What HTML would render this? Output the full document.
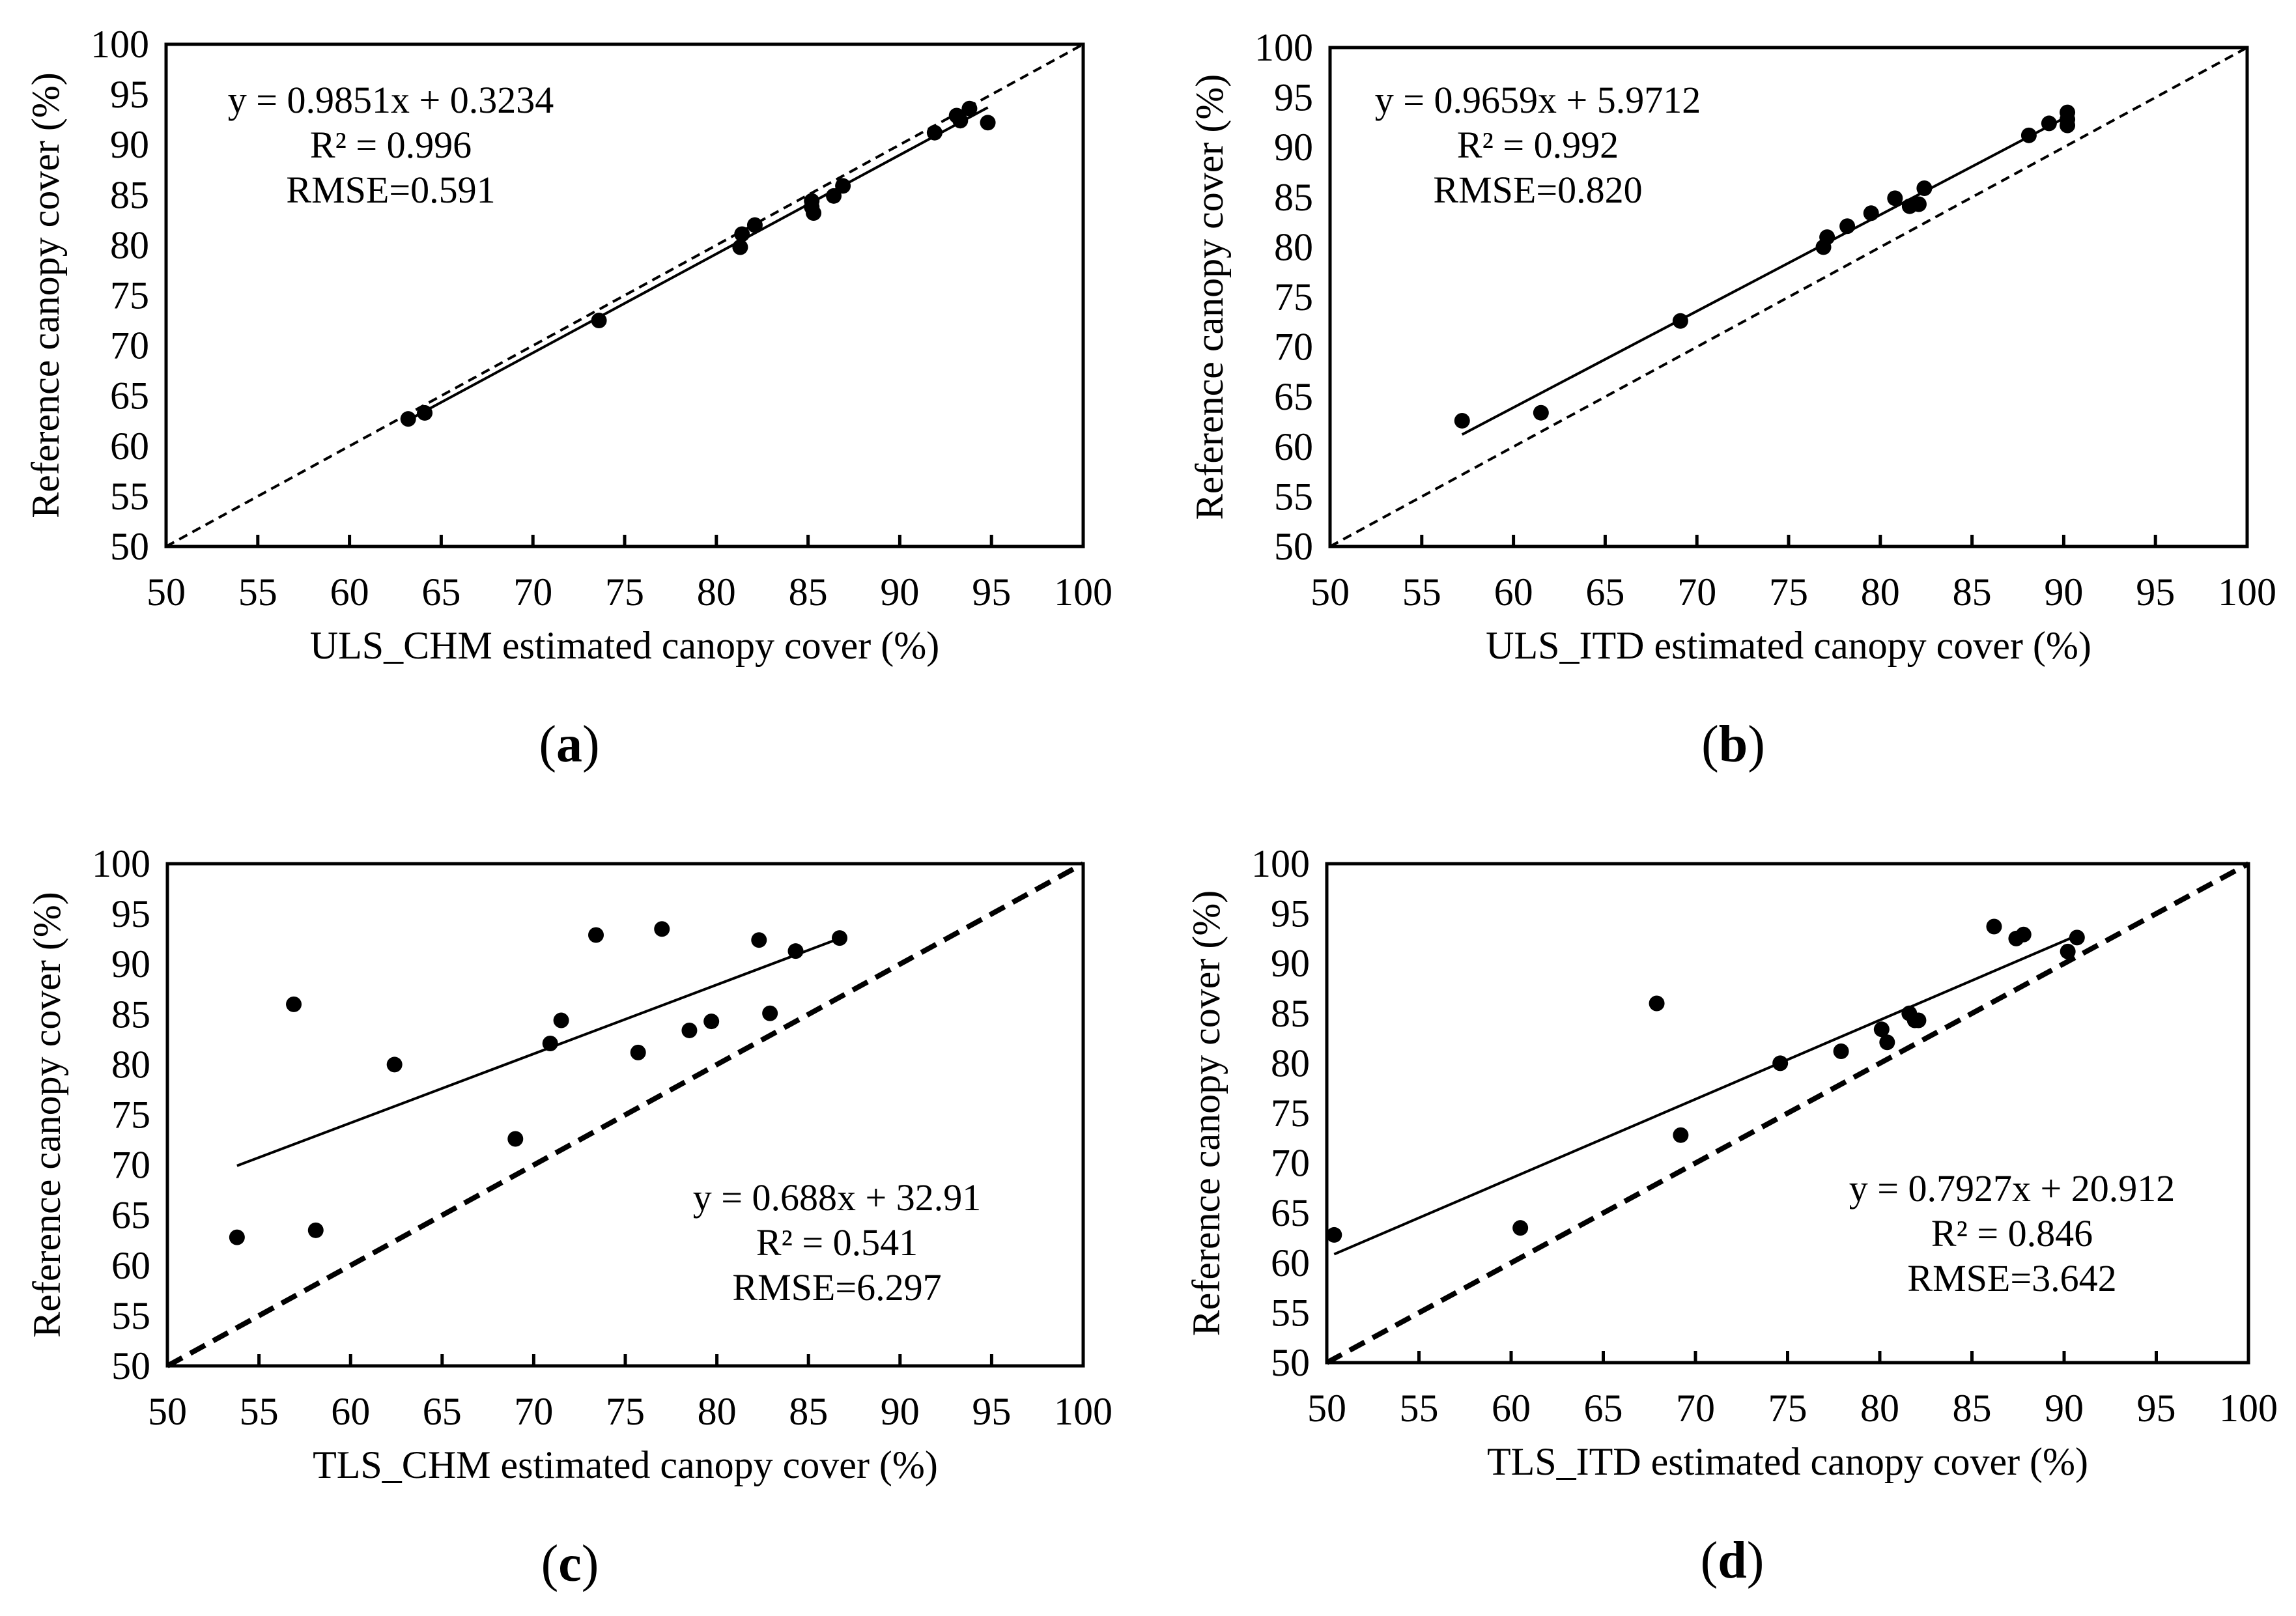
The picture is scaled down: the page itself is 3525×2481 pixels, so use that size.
<!DOCTYPE html>
<html><head><meta charset="utf-8"><style>
html,body{margin:0;padding:0;background:#fff;}
svg{display:block;}
text{font-family:"Liberation Serif","DejaVu Serif",serif;}
</style></head><body>
<svg id="fig" width="3525" height="2481" viewBox="0 0 3525 2481" xmlns="http://www.w3.org/2000/svg"></svg>
<script>
const ticks = [50,55,60,65,70,75,80,85,90,95,100];
const aX = [63.2,64.1,73.6,81.3,81.4,82.1,85.2,85.3,85.2,86.4,86.9,91.9,93.1,93.3,93.8,94.8];
const aY = [62.7,63.3,72.5,79.8,81.1,82.0,84.4,83.2,83.8,84.9,85.9,91.2,92.9,92.4,93.6,92.2];
const bX = [57.2,61.5,69.1,76.9,77.1,78.2,79.5,80.8,81.6,82.1,82.4,88.1,89.2,90.2,90.2,90.2];
const bY = [62.6,63.4,72.6,80.0,81.0,82.1,83.4,84.9,84.1,84.3,85.9,91.2,92.4,93.5,92.8,92.2];
const cX = [53.8,56.9,58.1,62.4,69.0,70.9,71.5,73.4,75.7,77.0,78.5,79.7,82.3,82.9,84.3,86.7];
const cY = [62.8,86.0,63.5,80.0,72.6,82.1,84.4,92.9,81.2,93.5,83.4,84.3,92.4,85.1,91.3,92.6];
const dX = [50.4,60.5,67.9,69.2,74.6,77.9,80.1,80.4,81.6,81.9,82.1,86.2,87.4,87.8,90.2,90.7];
const dY = [62.8,63.5,86.0,72.8,80.0,81.2,83.4,82.1,85.0,84.3,84.3,93.7,92.5,92.9,91.2,92.6];
const slopes = [0.9851,0.9659,0.688,0.7927];
const intercepts = [0.3234,5.9712,32.91,20.912];
const eqLabels = ["y = 0.9851x + 0.3234","y = 0.9659x + 5.9712","y = 0.688x + 32.91","y = 0.7927x + 20.912"];
const r2Labels = ["R² = 0.996","R² = 0.992","R² = 0.541","R² = 0.846"];
const rmseLabels = ["RMSE=0.591","RMSE=0.820","RMSE=6.297","RMSE=3.642"];
const xTitles = ["ULS_CHM estimated canopy cover (%)","ULS_ITD estimated canopy cover (%)","TLS_CHM estimated canopy cover (%)","TLS_ITD estimated canopy cover (%)"];
const panelLetters = ["a","b","c","d"];

const NS="http://www.w3.org/2000/svg";
const svg=document.getElementById('fig');
const FF='Liberation Serif, DejaVu Serif, serif';
function mk(tag,attrs,parent){const e=document.createElementNS(NS,tag);for(const k in attrs)e.setAttribute(k,attrs[k]);if(tag==='text')e.setAttribute('font-family',FF);(parent||svg).appendChild(e);return e;}

const panels=[
 {x0:255,x1:1663,y0:68,y1:839,xs:aX,ys:aY,dashW:4,dash:"14,9",eq:[600,153]},
 {x0:2042,x1:3450,y0:73,y1:839,xs:bX,ys:bY,dashW:4,dash:"14,9",eq:[2361,153]},
 {x0:257,x1:1663,y0:1326,y1:2097,xs:cX,ys:cY,dashW:8,dash:"26,14",eq:[1285,1838]},
 {x0:2037,x1:3452,y0:1326,y1:2092,xs:dX,ys:dY,dashW:8,dash:"26,14",eq:[3089,1824]}
];

panels.forEach((p,i)=>{
 const g=mk('g',{});
 
 
 const sx=v=>p.x0+(v-50)/50*(p.x1-p.x0);
 const sy=v=>p.y1-(v-50)/50*(p.y1-p.y0);
 const one=mk('line',{x1:sx(50),y1:sy(50),x2:sx(100),y2:sy(100),stroke:'#000','stroke-width':p.dashW,'stroke-dasharray':p.dash},g);
 
 
 const mn=Math.min(...p.xs),mx=Math.max(...p.xs);
 const rl=mk('line',{x1:sx(mn),y1:sy(slopes[i]*mn+intercepts[i]),x2:sx(mx),y2:sy(slopes[i]*mx+intercepts[i]),stroke:'#000','stroke-width':4},g);
 
 
 p.xs.forEach((v,j)=>{
  const c=mk('circle',{cx:sx(v),cy:sy(p.ys[j]),r:12,fill:'#000'},g);
  
  
 });
 const fr=mk('rect',{x:p.x0,y:p.y0,width:p.x1-p.x0,height:p.y1-p.y0,fill:'none',stroke:'#000','stroke-width':5},g);
 
 
 ticks.forEach(t=>{
  const tk=mk('line',{x1:sx(t),y1:p.y1,x2:sx(t),y2:p.y1-18,stroke:'#000','stroke-width':5},g);
  
  
  const xl=mk('text',{x:sx(t),y:p.y1+90,'font-size':60,'text-anchor':'middle'},g);
  xl.textContent=t;
  
  
  const yl=mk('text',{x:p.x0-26,y:sy(t)+20,'font-size':60,'text-anchor':'end'},g);
  yl.textContent=t;
  
  
 });
 const xt=mk('text',{x:(p.x0+p.x1)/2,y:p.y1+172,'font-size':60,'text-anchor':'middle'},g);
 xt.textContent=xTitles[i];
 
 
 const cy=(p.y0+p.y1)/2, cxp=p.x0-165;
 const yt=mk('text',{x:cxp,y:cy,'font-size':60,'text-anchor':'middle',transform:`rotate(-90 ${cxp} ${cy})`},g);
 yt.textContent='Reference canopy cover (%)';
 
 
 [eqLabels[i],r2Labels[i],rmseLabels[i]].forEach((s,k)=>{
  const t=mk('text',{x:p.eq[0],y:p.eq[1]+20+k*69,'font-size':58,'text-anchor':'middle'},g);
  t.textContent=s;
  
  
 });
 const pl=mk('text',{x:(p.x0+p.x1)/2-85,y:p.y1+330,'font-size':80,'text-anchor':'middle'},g);
 pl.innerHTML='(<tspan font-weight="bold">'+panelLetters[i]+'</tspan>)';
 
 
});
</script>
</body></html>
